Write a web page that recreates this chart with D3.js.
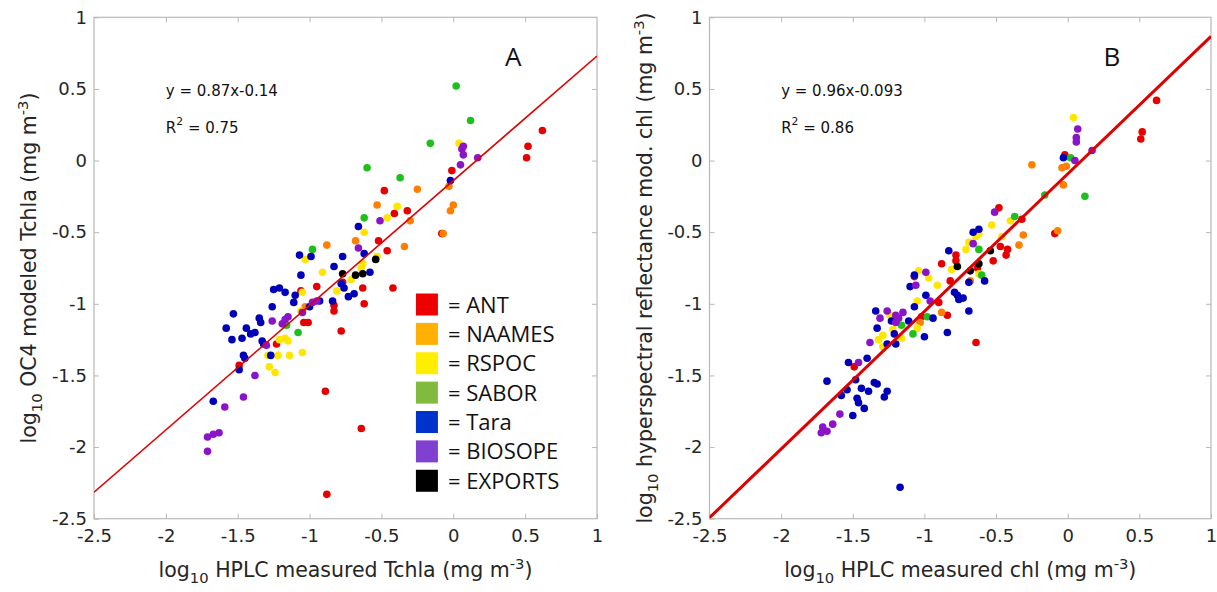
<!DOCTYPE html>
<html><head><meta charset="utf-8">
<script src="https://cdn.jsdelivr.net/npm/d3@7"></script>
<style>body{margin:0;background:#fff}</style>
</head><body>
<svg id="c" width="1217" height="592" xmlns="http://www.w3.org/2000/svg"></svg>
<script>
// ---------- DATA ----------
const seriesNames = ["ANT","NAAMES","RSPOC","SABOR","Tara","BIOSOPE","EXPORTS"];
const dotColors = ["#e60000","#ff8000","#ffe600","#1ec01e","#0000b8","#8c14c8","#000000"];
const legendColors = ["#ee0000","#ffb000","#ffee00","#80bb40","#0033cc","#8040d0","#000000"];
const tickValues = [-2.5,-2,-1.5,-1,-0.5,0,0.5,1];
const tickLabels = ["-2.5","-2","-1.5","-1","-0.5","0","0.5","1"];

// Panel A: log10 HPLC Tchla vs log10 OC4 modeled Tchla
const aANT = [[0.62,0.21],[0.52,0.10],[0.51,0.02],[-0.01,-0.07],[-0.48,-0.21],[-0.41,-0.37],[-0.32,-0.35],[-0.08,-0.51],[-0.52,-0.56],[-0.46,-0.63],[-0.95,-0.88],[-0.77,-0.85],[-0.63,-0.89],[-0.42,-0.89],[-1.06,-0.91],[-0.83,-1.01],[-0.83,-1.05],[-0.62,-1.00],[-0.78,-1.19],[-1.04,-1.13],[-1.01,-1.13],[-0.89,-1.61],[-0.64,-1.87],[-0.88,-2.33],[-1.49,-1.43],[-1.23,-1.28]];
const aNAAMES = [[-0.03,-0.18],[-0.25,-0.20],[-0.53,-0.31],[0.00,-0.31],[-0.02,-0.35],[-0.30,-0.42],[-0.07,-0.51],[-0.68,-0.56],[-0.34,-0.60],[-0.88,-0.59],[-1.03,-1.02]];
const aRSPOC = [[0.04,0.12],[-0.39,-0.32],[-0.46,-0.40],[-0.62,-0.50],[-0.53,-0.67],[-1.03,-0.69],[-0.63,-0.72],[-0.64,-0.75],[-0.91,-0.78],[-0.71,-0.83],[-0.81,-0.91],[-1.05,-0.92],[-1.06,-1.05],[-1.21,-1.25],[-1.17,-1.24],[-1.15,-1.26],[-1.29,-1.36],[-1.22,-1.36],[-1.14,-1.36],[-1.05,-1.34],[-1.28,-1.44],[-1.24,-1.48]];
const aSABOR = [[0.02,0.52],[0.12,0.28],[-0.16,0.12],[-0.60,-0.05],[-0.37,-0.12],[-0.62,-0.40],[-0.98,-0.62],[-1.08,-1.20],[-1.16,-1.15]];
const aTara = [[-0.02,-0.14],[-0.66,-0.46],[-0.62,-0.65],[-1.07,-0.66],[-0.99,-0.67],[-0.77,-0.67],[-0.83,-0.74],[-0.58,-0.78],[-1.06,-0.80],[-0.78,-0.86],[-0.76,-0.89],[-0.69,-0.93],[-0.73,-0.95],[-1.17,-0.92],[-1.10,-0.94],[-1.25,-0.90],[-1.21,-0.89],[-1.11,-0.99],[-1.26,-1.02],[-1.00,-1.02],[-0.93,-0.98],[-0.84,-0.98],[-1.53,-1.07],[-1.35,-1.10],[-1.34,-1.13],[-1.58,-1.17],[-1.44,-1.17],[-1.41,-1.21],[-1.38,-1.20],[-1.54,-1.25],[-1.47,-1.24],[-1.33,-1.26],[-1.32,-1.28],[-1.27,-1.36],[-1.46,-1.36],[-1.45,-1.38],[-1.49,-1.46],[-1.67,-1.68]];
const aBIOSOPE = [[0.07,0.10],[0.06,0.08],[0.07,0.04],[0.17,0.02],[0.05,-0.03],[-0.51,-0.42],[-0.66,-0.61],[-0.98,-0.99],[-0.95,-0.98],[-1.05,-1.06],[-1.26,-1.12],[-1.19,-1.14],[-1.17,-1.11],[-1.15,-1.09],[-1.30,-1.29],[-1.38,-1.50],[-1.46,-1.65],[-1.59,-1.72],[-1.71,-1.93],[-1.67,-1.91],[-1.63,-1.90],[-1.71,-2.03]];
const aEXPORTS = [[-0.54,-0.69],[-0.63,-0.79],[-0.68,-0.80],[-0.77,-0.79]];

// Panel B: log10 HPLC chl vs log10 hyperspectral reflectance modeled chl
const bANT = [[0.62,0.42],[0.52,0.20],[0.51,0.15],[-0.02,0.04],[-0.48,-0.33],[-0.32,-0.41],[-0.09,-0.51],[-0.47,-0.60],[-0.42,-0.62],[-0.43,-0.66],[-0.78,-0.66],[-0.78,-0.70],[-0.88,-0.72],[-0.52,-0.70],[-0.63,-0.75],[-0.82,-0.84],[-1.07,-0.81],[-0.90,-0.99],[-1.02,-1.09],[-0.84,-1.08],[-0.64,-1.27],[-1.49,-1.44]];
const bNAAMES = [[-0.04,-0.05],[-0.01,-0.04],[-0.25,-0.03],[-0.03,-0.17],[-0.31,-0.52],[-0.07,-0.49],[-0.34,-0.59],[-0.68,-0.84],[-1.03,-1.13],[-0.88,-1.06]];
const bRSPOC = [[0.04,0.30],[-0.40,-0.42],[-0.53,-0.45],[-0.64,-0.53],[-0.62,-0.51],[-0.46,-0.53],[-0.69,-0.57],[-0.71,-0.62],[-0.81,-0.76],[-0.62,-0.79],[-1.04,-0.77],[-0.97,-0.82],[-0.91,-0.87],[-1.05,-0.98],[-1.05,-1.17],[-1.16,-1.24],[-1.24,-1.08],[-1.23,-1.11],[-1.22,-1.18],[-1.32,-1.25],[-1.29,-1.22],[-1.29,-1.30]];
const bSABOR = [[0.02,0.02],[-0.16,-0.24],[0.12,-0.25],[-0.37,-0.39],[-0.62,-0.62],[-0.60,-0.80],[-0.98,-1.09],[-1.08,-1.21],[-1.16,-1.15]];
const bTara = [[-0.03,0.02],[-0.66,-0.50],[-0.62,-0.48],[-0.83,-0.63],[-0.69,-0.85],[-0.58,-0.84],[-1.07,-0.80],[-1.10,-0.88],[-0.99,-0.94],[-0.79,-0.92],[-0.77,-0.94],[-0.76,-0.97],[-0.73,-0.96],[-0.69,-1.05],[-0.84,-1.20],[-1.00,-1.23],[-0.94,-1.10],[-1.07,-1.02],[-1.11,-1.12],[-1.34,-1.05],[-1.23,-1.12],[-1.33,-1.17],[-1.21,-1.21],[-1.20,-1.28],[-1.26,-1.28],[-1.53,-1.41],[-1.40,-1.38],[-1.68,-1.54],[-1.48,-1.53],[-1.35,-1.55],[-1.33,-1.56],[-1.54,-1.60],[-1.44,-1.59],[-1.39,-1.61],[-1.26,-1.61],[-1.58,-1.64],[-1.28,-1.65],[-1.47,-1.66],[-1.46,-1.69],[-1.42,-1.73],[-1.50,-1.78],[-1.17,-2.28]];
const bBIOSOPE = [[0.07,0.22],[0.06,0.16],[0.06,0.13],[0.17,0.07],[0.05,0.00],[-0.51,-0.36],[-0.66,-0.58],[-0.99,-0.78],[-1.06,-0.87],[-0.96,-0.98],[-1.15,-1.06],[-1.20,-1.08],[-1.18,-1.10],[-1.20,-1.13],[-1.26,-1.05],[-1.31,-1.10],[-1.38,-1.27],[-1.46,-1.41],[-1.59,-1.77],[-1.64,-1.84],[-1.71,-1.86],[-1.72,-1.90],[-1.68,-1.89]];
const bEXPORTS = [[-0.54,-0.63],[-0.77,-0.74],[-0.62,-0.72],[-0.68,-0.77]];

const fitA = {slope:0.87, intercept:-0.14, eq:"y = 0.87x-0.14", r2:"0.75"};
const fitB = {slope:0.96, intercept:-0.093, eq:"y = 0.96x-0.093", r2:"0.86"};

// ---------- DRAW ----------
const svg = d3.select("#c");
svg.append("rect").attr("width",1217).attr("height",592).attr("fill","#fff");
const FONT = "'DejaVu Sans', sans-serif";
const TXT = "#262626";
const GRID = "#b8b8b8";

function labelText(g, parts, attrs) {
  const t = g.append("text").attr("font-family", FONT).attr("fill", TXT);
  Object.entries(attrs).forEach(([k,v]) => t.attr(k,v));
  let shift = 0;
  parts.forEach(p => {
    const ts = t.append("tspan").text(p.t);
    const target = p.s === "sub" ? 6 : p.s === "sup" ? -8 : 0;
    if (target !== shift) { ts.attr("dy", target - shift); shift = target; }
    if (p.s) ts.attr("font-size", "0.72em");
  });
  return t;
}

function panel(cfg) {
  const x = d3.scaleLinear().domain([-2.5,1]).range([cfg.left, cfg.right]);
  const y = d3.scaleLinear().domain([-2.5,1]).range([cfg.bottom, cfg.top]);
  const g = svg.append("g");

  g.append("rect").attr("x",cfg.left).attr("y",cfg.top)
    .attr("width",cfg.right-cfg.left).attr("height",cfg.bottom-cfg.top)
    .attr("fill","none").attr("stroke",GRID).attr("stroke-width",1.2);

  const fmt = (d) => tickLabels[tickValues.indexOf(d)];
  const styleAxis = (sel, showText) => {
    sel.select(".domain").remove();
    sel.selectAll(".tick line").attr("stroke",GRID).attr("stroke-width",1);
    sel.selectAll(".tick text").attr("font-family",FONT).attr("font-size",18).attr("fill",TXT);
    if (!showText) sel.selectAll(".tick text").remove();
  };
  g.append("g").attr("transform",`translate(0,${cfg.bottom})`)
    .call(d3.axisBottom(x).tickValues(tickValues).tickFormat(fmt).tickSizeInner(-5).tickSizeOuter(0).tickPadding(11))
    .call(s => styleAxis(s,true));
  g.append("g").attr("transform",`translate(0,${cfg.top})`)
    .call(d3.axisTop(x).tickValues(tickValues.slice(1,-1)).tickSizeInner(-5).tickSizeOuter(0))
    .call(s => styleAxis(s,false));
  g.append("g").attr("transform",`translate(${cfg.left},0)`)
    .call(d3.axisLeft(y).tickValues(tickValues).tickFormat(fmt).tickSizeInner(-5).tickSizeOuter(0).tickPadding(7))
    .call(s => styleAxis(s,true));
  g.append("g").attr("transform",`translate(${cfg.right},0)`)
    .call(d3.axisRight(y).tickValues(tickValues.slice(1,-1)).tickSizeInner(-5).tickSizeOuter(0))
    .call(s => styleAxis(s,false));

  const clipId = "clip" + cfg.name;
  svg.append("clipPath").attr("id",clipId).append("rect")
    .attr("x",cfg.left).attr("y",cfg.top).attr("width",cfg.right-cfg.left).attr("height",cfg.bottom-cfg.top);
  const pg = g.append("g");
  cfg.data.forEach((arr, i) => {
    pg.selectAll(null).data(arr).enter().append("circle")
      .attr("cx", d => x(d[0])).attr("cy", d => y(d[1]))
      .attr("r", 3.8).attr("fill", dotColors[i]);
  });

  const xs = x.domain();
  g.append("line").attr("clip-path",`url(#${clipId})`)
    .attr("x1", x(xs[0])).attr("y1", y(cfg.fit.slope*xs[0]+cfg.fit.intercept))
    .attr("x2", x(xs[1])).attr("y2", y(cfg.fit.slope*xs[1]+cfg.fit.intercept))
    .attr("stroke","#e00000").attr("stroke-width",cfg.lineW);

  g.append("text").attr("x", x(cfg.eqX)).attr("y", y(0.45)).attr("font-family",FONT)
    .attr("font-size",15).attr("fill","#111").text(cfg.fit.eq);
  labelText(g, [{t:"R"},{t:"2",s:"sup"},{t:" = " + cfg.fit.r2}],
    {x: x(cfg.eqX), y: y(0.195), "font-size": 15}).attr("fill","#111");

  g.append("text").attr("x", x(cfg.letterX)).attr("y", y(0.66))
    .attr("font-family","'Open Sans', sans-serif").attr("font-size",26).attr("fill","#111")
    .text(cfg.letter);

  const cx = (cfg.left+cfg.right)/2, cy = (cfg.top+cfg.bottom)/2;
  labelText(g, cfg.xlabel, {x: cx, y: 577, "text-anchor":"middle", "font-size": 20.5});
  labelText(g, cfg.ylabel, {transform:`translate(${cfg.left-58},${cy}) rotate(-90)`, "text-anchor":"middle", "font-size": 20.5});
  return {x, y, g};
}

const A = panel({name:"A", left:94, right:597, top:17.3, bottom:518.7,
  data:[aANT,aNAAMES,aRSPOC,aSABOR,aTara,aBIOSOPE,aEXPORTS], fit:fitA, lineW:1.6,
  eqX:-2.0, letterX:0.36, letter:"A",
  xlabel:[{t:"log"},{t:"10",s:"sub"},{t:" HPLC measured Tchla (mg m"},{t:"-3",s:"sup"},{t:")"}],
  ylabel:[{t:"log"},{t:"10",s:"sub"},{t:" OC4 modeled Tchla (mg m"},{t:"-3",s:"sup"},{t:")"}]});

const B = panel({name:"B", left:709.5, right:1211, top:17.3, bottom:518.7,
  data:[bANT,bNAAMES,bRSPOC,bSABOR,bTara,bBIOSOPE,bEXPORTS], fit:fitB, lineW:3,
  eqX:-2.0, letterX:0.25, letter:"B",
  xlabel:[{t:"log"},{t:"10",s:"sub"},{t:" HPLC measured chl (mg m"},{t:"-3",s:"sup"},{t:")"}],
  ylabel:[{t:"log"},{t:"10",s:"sub"},{t:" hyperspectral reflectance mod. chl (mg m"},{t:"-3",s:"sup"},{t:")"}]});

// legend (panel A)
const lg = svg.append("g");
const legY = d3.scaleBand().domain(seriesNames).range([A.y(-1.0)-14, A.y(-2.24)+14]);
const legX = A.x(-0.26);
seriesNames.forEach((s,i) => {
  const cy = legY(s) + legY.bandwidth()/2;
  lg.append("rect").attr("x", legX).attr("y", cy-11).attr("width",22).attr("height",22)
    .attr("fill", legendColors[i]);
  lg.append("text").attr("x", legX+32).attr("y", cy+8)
    .attr("font-family","'Open Sans', sans-serif").attr("font-size",22).attr("fill","#111")
    .text("= " + s);
});
</script>
</body></html>
